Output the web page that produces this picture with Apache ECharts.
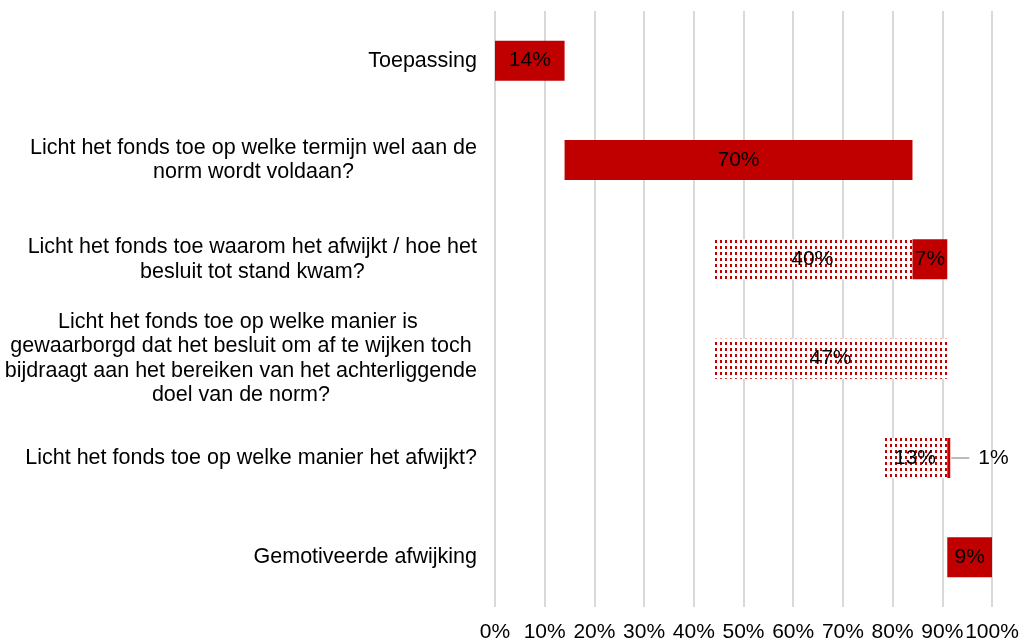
<!DOCTYPE html>
<html>
<head>
<meta charset="utf-8">
<script src="https://cdn.jsdelivr.net/npm/echarts@6/dist/echarts.min.js"></script>
<style>
  html, body { margin: 0; padding: 0; background: #fff; }
  #chart { width: 1022px; height: 643px; }
</style>
</head>
<body>
<div id="chart"></div>
<script>
// categories, top to bottom
const categories = [
    'Toepassing',
    'Licht het fonds toe op welke termijn wel aan de\nnorm wordt voldaan?',
    'Licht het fonds toe waarom het afwijkt / hoe het\nbesluit tot stand kwam?',
    'Licht het fonds toe op welke manier is \ngewaarborgd dat het besluit om af te wijken toch\nbijdraagt aan het bereiken van het achterliggende\ndoel van de norm?',
    'Licht het fonds toe op welke manier het afwijkt?',
    'Gemotiveerde afwijking'
];
// invisible base of the waterfall
const baseValues = [0, 14, 43.7, 44, 78, 91];
// dotted part
const dottedValues = ['-', '-', 40.3, 47, 13, '-'];
// solid red part
const solidValues = [14, 70, 7, '-', 0.6, 9];
const xTicks = [0, 10, 20, 30, 40, 50, 60, 70, 80, 90, 100];

const FONT = "'Liberation Sans', Arial, sans-serif";
const RED = '#c00000';

var chartDom = document.getElementById('chart');
var myChart = echarts.init(chartDom);

const pct = (p) => Math.round(p.value) + '%';

// small values get their label outside with a short leader line
const solidData = solidValues.map((v) => {
    if (v !== '-' && v < 2) {
        return {
            value: v,
            label: {
                position: 'right',
                distance: 1,
                formatter: (p) => '{l|}{g|}{t|' + pct(p) + '}',
                rich: {
                    l: { width: 18, height: 1.5, backgroundColor: '#a6a6a6' },
                    g: { width: 9 },
                    t: { fontSize: 21, color: '#000', fontFamily: FONT }
                }
            }
        };
    }
    return v;
});

var option = {
    animation: false,
    grid: {
        left: 495,
        right: 30,
        top: 11,
        bottom: 35,
        containLabel: false
    },
    xAxis: {
        type: 'value',
        min: 0,
        max: 100,
        interval: 10,
        axisLine: { show: false },
        axisTick: { show: false },
        splitLine: { show: true, lineStyle: { color: '#d9d9d9', width: 2 } },
        axisLabel: {
            margin: 15,
            fontSize: 21,
            color: '#000',
            fontFamily: FONT,
            formatter: (v) => (xTicks.indexOf(v) >= 0 ? v + '%' : '')
        }
    },
    yAxis: {
        type: 'category',
        inverse: true,
        data: categories,
        axisLine: { show: false },
        axisTick: { show: false },
        axisLabel: {
            margin: 18,
            align: 'right',
            formatter: (v) => v.split('\n').map((s) => '{a|' + s + '}').join('\n'),
            rich: {
                a: {
                    align: 'center',
                    fontSize: 21.5,
                    lineHeight: 24.5,
                    color: '#000',
                    fontFamily: FONT
                }
            }
        }
    },
    series: [
        {
            name: 'base',
            type: 'bar',
            stack: 'w',
            barWidth: 40,
            silent: true,
            itemStyle: { color: 'transparent' },
            data: baseValues
        },
        {
            name: 'dotted',
            type: 'bar',
            stack: 'w',
            barWidth: 40,
            itemStyle: {
                color: '#ffffff',
                decal: {
                    symbol: 'rect',
                    symbolSize: 1,
                    color: RED,
                    dashArrayX: [2, 2.3],
                    dashArrayY: [2.2, 2.2],
                    rotation: 0
                }
            },
            label: {
                show: true,
                position: 'inside',
                color: '#000',
                fontSize: 21,
                fontFamily: FONT,
                formatter: pct
            },
            data: dottedValues
        },
        {
            name: 'solid',
            type: 'bar',
            stack: 'w',
            barWidth: 40,
            itemStyle: { color: RED },
            label: {
                show: true,
                position: 'inside',
                color: '#000',
                fontSize: 21,
                fontFamily: FONT,
                formatter: pct
            },
            data: solidData
        }
    ]
};
myChart.setOption(option);
</script>
</body>
</html>
